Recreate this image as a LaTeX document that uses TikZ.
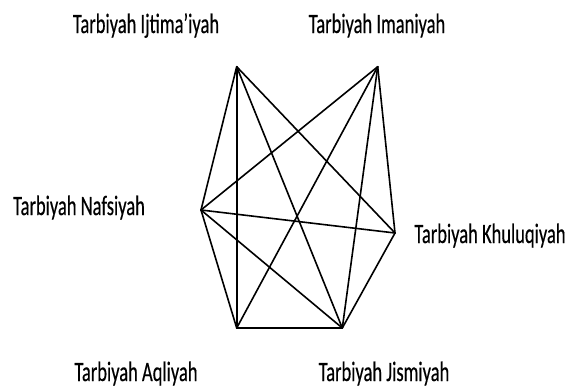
\documentclass[tikz,border=0pt]{standalone}
\usepackage{fontspec}
\usepackage{graphicx}
\setmainfont{Carlito}
\newfontfamily\lblfont[FakeBold=0.5]{Carlito}
\newcommand{\squeezed}[1]{\scalebox{0.66}[1]{\lblfont\fontsize{28}{32}\selectfont #1}}
\begin{document}
\begin{tikzpicture}[x=1pt,y=-1pt,
  lbl/.style={inner sep=0pt, anchor=base, text=black},
  edge/.style={line width=1.6pt, line join=round, line cap=round}]
\useasboundingbox (0,0) rectangle (572,388);
% labels
\node[lbl] (ijt) at (146,33) {\squeezed{Tarbiyah Ijtima’iyah}};
\node[lbl] (ima) at (377,33) {\squeezed{Tarbiyah Imaniyah}};
\node[lbl] (naf) at (79,215) {\squeezed{Tarbiyah Nafsiyah}};
\node[lbl] (khu) at (490,243) {\squeezed{Tarbiyah Khuluqiyah}};
\node[lbl] (aql) at (136,381) {\squeezed{Tarbiyah Aqliyah}};
\node[lbl] (jis) at (384,381) {\squeezed{Tarbiyah Jismiyah}};
% vertices
\coordinate (a) at (236.7,66.7);
\coordinate (b) at (377.7,66.7);
\coordinate (c) at (201,210);
\coordinate (d) at (395,233);
\coordinate (e) at (236.7,328);
\coordinate (f) at (342.3,328);
% edges
\foreach \p/\q in {a/c,a/d,a/e,a/f,b/c,b/d,b/e,b/f,c/d,c/e,c/f,d/f,e/f}
  \draw[edge] (\p) -- (\q);
\end{tikzpicture}
\end{document}
